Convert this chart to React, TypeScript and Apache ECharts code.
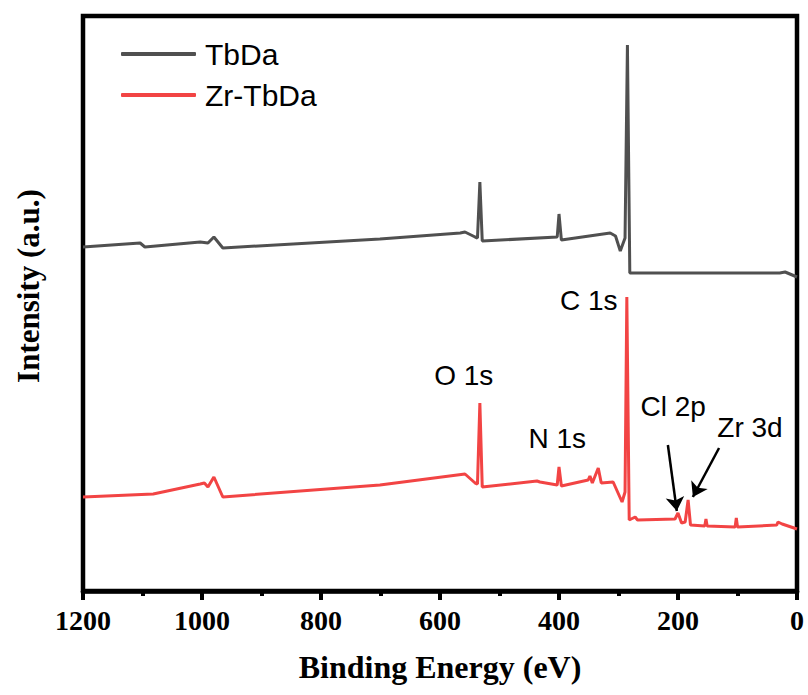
import React, { useEffect, useRef } from 'react';
import * as echarts from 'echarts';

// Binding energy (eV) and intensity (a.u.)
const tbdaEnergy = [1200, 1104, 1096, 1003, 990, 980, 965, 701, 566, 558, 541, 537, 533, 529, 403, 400, 396, 314, 305, 297, 289, 285, 281, 29, 20, 0];
const tbdaIntensity = [344, 348, 344, 349, 348, 354, 343, 352, 358, 359, 354, 353, 409, 350, 354, 377, 351, 358, 355, 340, 353, 546, 318, 318, 319, 314];

const zrEnergy = [1200, 1082, 1003, 996, 990, 980, 965, 701, 558, 541, 537, 533, 529, 437, 432, 403, 400, 396, 351, 348, 344, 334, 329, 309, 294, 289, 286, 282, 272, 268, 205, 200, 194, 188, 183, 179, 155, 153, 151, 104, 102, 100, 34, 32, 25, 0];
const zrIntensity = [94, 97, 107, 108, 104, 114, 94, 106, 117, 108, 107, 188, 104, 110, 109, 106, 124, 105, 111, 115, 108, 123, 108, 109, 89, 99, 294, 71, 74, 71, 72, 78, 68, 69, 91, 66, 65, 72, 65, 64, 73, 64, 66, 69, 67, 62];

const seriesNames = ['TbDa', 'Zr-TbDa'];

const peakLabels = ['C 1s', 'O 1s', 'N 1s', 'Cl 2p', 'Zr 3d'];
const peakLabelEnergy = [350, 560, 403, 208, 79];
const peakLabelIntensity = [291, 216, 153, 185, 164];

const arrowFromEnergy = [217, 131];
const arrowFromIntensity = [146, 143];
const arrowToEnergy = [202, 175];
const arrowToIntensity = [80, 94];

const xTickLabels = ['0', '200', '400', '600', '800', '1000', '1200'];

export default function App() {
  const ref = useRef<HTMLDivElement>(null);
  useEffect(() => {
    const chart = echarts.init(ref.current!, null, { renderer: 'svg' });
    const tbda = tbdaEnergy.map((e, i) => [e, tbdaIntensity[i]]);
    const zr = zrEnergy.map((e, i) => [e, zrIntensity[i]]);
    const sans = 'Liberation Sans, Arial, sans-serif';
    const serif = 'Liberation Serif, Times New Roman, serif';
    chart.setOption({
      animation: false,
      backgroundColor: '#fff',
      grid: {
        left: 83, right: 11, top: 16, bottom: 104,
        show: true, borderColor: '#000', borderWidth: 4.5, backgroundColor: 'transparent'
      },
      legend: {
        data: seriesNames.map((n) => ({ name: n, icon: 'roundRect' })),
        orient: 'vertical',
        left: 121, top: 39, padding: 0,
        itemWidth: 75, itemHeight: 4, itemGap: 11,
        textStyle: { fontFamily: sans, fontSize: 30, color: '#000', padding: [0, 0, 0, 4] }
      },
      xAxis: {
        type: 'value', min: 0, max: 1200, interval: 200, inverse: true,
        axisLine: { show: true, onZero: false, lineStyle: { color: '#000', width: 4.5 } },
        axisTick: { show: true, length: 9, lineStyle: { color: '#000', width: 4 } },
        minorTick: { show: true, splitNumber: 2, length: 5, lineStyle: { color: '#000', width: 4 } },
        splitLine: { show: false },
        axisLabel: {
          margin: 15, color: '#000', fontFamily: serif, fontWeight: 'bold', fontSize: 28,
          formatter: (v: number) => xTickLabels[Math.round(v / 200)] ?? String(v)
        },
        name: 'Binding Energy (eV)', nameLocation: 'middle', nameGap: 60,
        nameTextStyle: { color: '#000', fontFamily: serif, fontWeight: 'bold', fontSize: 32 }
      },
      yAxis: {
        type: 'value', min: 0, max: 575,
        axisLine: { show: false }, axisTick: { show: false }, axisLabel: { show: false }, splitLine: { show: false }
      },
      graphic: [
        {
          type: 'text', x: 28, y: 286, rotation: Math.PI / 2,
          style: {
            text: 'Intensity (a.u.)', fill: '#000', font: `bold 31px ${serif}`,
            textAlign: 'center', textVerticalAlign: 'middle'
          }
        }
      ],
      series: [
        {
          name: seriesNames[0], type: 'line', data: tbda, symbol: 'none', showSymbol: false,
          color: '#505050', lineStyle: { color: '#505050', width: 3 }
        },
        {
          name: seriesNames[1], type: 'line', data: zr, symbol: 'none', showSymbol: false,
          color: '#f24444', lineStyle: { color: '#f24444', width: 3 },
          markPoint: {
            silent: true,
            symbol: 'circle', symbolSize: 1,
            itemStyle: { color: 'rgba(0,0,0,0)' },
            label: { show: true, position: 'inside', color: '#000', fontFamily: sans, fontSize: 28 },
            data: peakLabels.map((t, i) => ({
              coord: [peakLabelEnergy[i], peakLabelIntensity[i]],
              label: { formatter: t }
            }))
          },
          markLine: {
            silent: true,
            symbol: ['none', 'arrow'], symbolSize: 14,
            label: { show: false },
            lineStyle: { color: '#000', width: 2.5, type: 'solid' },
            data: arrowFromEnergy.map((e, i) => [
              { coord: [e, arrowFromIntensity[i]] },
              { coord: [arrowToEnergy[i], arrowToIntensity[i]] }
            ])
          }
        }
      ]
    });
    return () => chart.dispose();
  }, []);
  return <div ref={ref} style={{ position: 'fixed', left: 0, top: 0, width: 808, height: 695 }} />;
}
